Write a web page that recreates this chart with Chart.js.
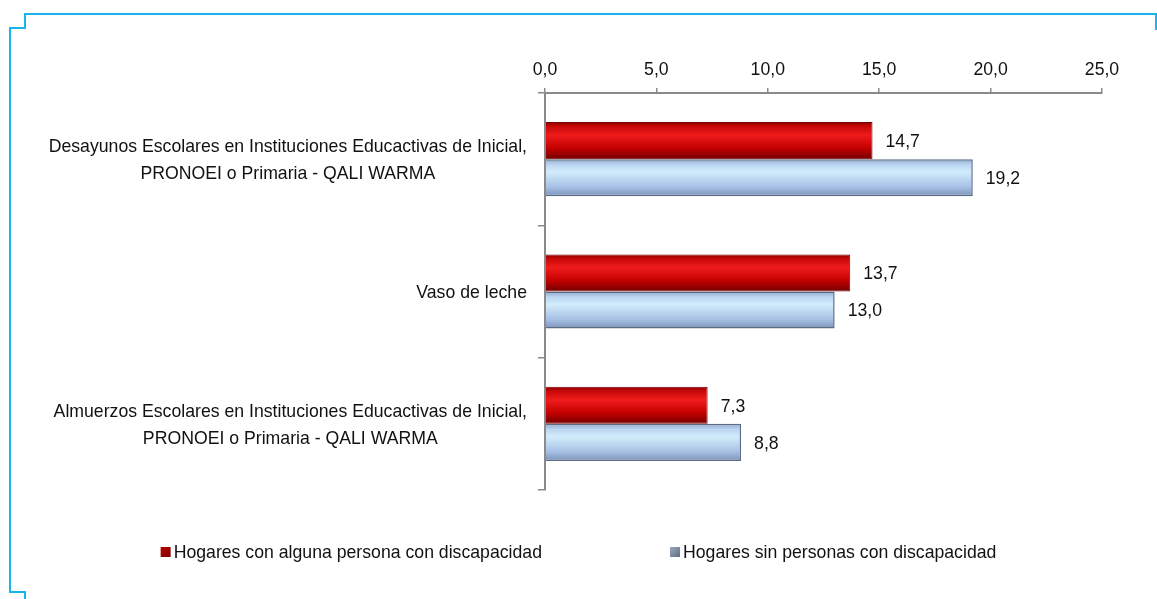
<!DOCTYPE html>
<html>
<head>
<meta charset="utf-8">
<script src="https://cdn.jsdelivr.net/npm/chart.js@4/dist/chart.umd.min.js"></script>
<style>
  html, body { margin: 0; padding: 0; background: #fff; }
  #wrap { width: 1157px; height: 599px; position: relative; }
</style>
</head>
<body>
<div id="wrap"><canvas id="chart"></canvas></div>
<script>
// Data
const categories = [
    ['Desayunos Escolares en Instituciones Educactivas de Inicial,', 'PRONOEI o Primaria - QALI WARMA'],
    ['Vaso de leche'],
    ['Almuerzos Escolares en Instituciones Educactivas de Inicial,', 'PRONOEI o Primaria - QALI WARMA']
];
const seriesNames = ['Hogares con alguna persona con discapacidad', 'Hogares sin personas con discapacidad'];
const withDisability = [14.7, 13.7, 7.3];
const withoutDisability = [19.2, 13.0, 8.8];
const xTicks = [0, 5, 10, 15, 20, 25];

// no narrow font here, so squeeze a normal one sideways
const FAMILY = '"Liberation Sans", Arial, sans-serif';
const FSIZE = 19;
const FONT = FSIZE + 'px ' + FAMILY;
const SX = 0.93;

const CAT_PCT = 0.56;

function fmt(v) {
    return v.toFixed(1).replace('.', ',');
}

function textW(c, s) {
    return c.measureText(s).width * SX;
}

// draw text squeezed horizontally; align is left / center / right
function drawText(c, s, x, y, align) {
    const w = textW(c, s);
    let left = x;
    if (align === 'center') left = x - w / 2;
    if (align === 'right') left = x - w;
    c.save();
    c.translate(left, y);
    c.scale(SX, 1);
    c.textAlign = 'left';
    c.textBaseline = 'middle';
    c.fillText(s, 0, 0);
    c.restore();
}

// vertical gradient for each bar, worked out from the category scale
function barFill(stops, solid) {
    return (ctx) => {
        const chart = ctx.chart;
        const yScale = chart.scales.y;
        if (!chart.chartArea || !yScale) return solid;
        const band = (chart.chartArea.bottom - chart.chartArea.top) / categories.length;
        const thick = band * CAT_PCT / 2;
        const center = yScale.getPixelForValue(ctx.dataIndex);
        const top = center - thick + ctx.datasetIndex * thick;
        const g = chart.ctx.createLinearGradient(0, top, 0, top + thick);
        stops.forEach(s => g.addColorStop(s[0], s[1]));
        return g;
    };
}

const redStops = [[0, '#900000'], [0.12, '#c80808'], [0.35, '#f01c1c'], [0.7, '#c40000'], [1, '#740000']];
const blueStops = [[0, '#8ea8cc'], [0.15, '#bcd6f2'], [0.35, '#d2ecfc'], [0.75, '#a7c0e4'], [1, '#7b93b8']];

// cyan frame around the figure
const framePlugin = {
    id: 'frame',
    beforeDraw(chart) {
        const c = chart.ctx;
        c.save();
        c.strokeStyle = '#19b4ee';
        c.lineWidth = 2;
        c.beginPath();
        c.moveTo(1156, 30);
        c.lineTo(1156, 14);
        c.lineTo(25, 14);
        c.lineTo(25, 28);
        c.lineTo(10, 28);
        c.lineTo(10, 592);
        c.lineTo(25, 592);
        c.lineTo(25, 599);
        c.stroke();
        c.restore();
    }
};

// axis text: x ticks above the axis, category labels right aligned with centred lines
const axisTextPlugin = {
    id: 'axisText',
    afterDraw(chart) {
        const c = chart.ctx;
        const xScale = chart.scales.x;
        const yScale = chart.scales.y;
        c.save();
        c.font = FONT;
        c.fillStyle = '#111';
        xTicks.forEach(v => {
            drawText(c, fmt(v), xScale.getPixelForValue(v), chart.chartArea.top - 23, 'center');
        });
        const right = chart.chartArea.left - 18;
        const lineH = 27;
        categories.forEach((lines, i) => {
            const w = Math.max(...lines.map(l => textW(c, l)));
            const cx = right - w / 2;
            const cy = yScale.getPixelForValue(i) + 1;
            lines.forEach((l, k) => {
                drawText(c, l, cx, cy + (k - (lines.length - 1) / 2) * lineH, 'center');
            });
        });
        c.restore();
    }
};

// value labels to the right of each bar
const valueLabelPlugin = {
    id: 'valueLabels',
    afterDatasetsDraw(chart) {
        const c = chart.ctx;
        c.save();
        c.font = FONT;
        c.fillStyle = '#111';
        chart.data.datasets.forEach((ds, di) => {
            chart.getDatasetMeta(di).data.forEach((bar, i) => {
                drawText(c, fmt(ds.data[i]), bar.x + 13, bar.y + 1, 'left');
            });
        });
        c.restore();
    }
};

// legend drawn by hand so the gap between the items matches
const legendPlugin = {
    id: 'customLegend',
    afterDraw(chart) {
        const c = chart.ctx;
        const boxColors = [['#c00000', '#7a0000'], ['#9aa8bc', '#5f6d84']];
        const y = 552;
        const gap = 128;
        c.save();
        c.font = FONT;
        const widths = seriesNames.map(n => 13 + textW(c, n));
        let x = (chart.width - (widths[0] + gap + widths[1])) / 2;
        seriesNames.forEach((n, i) => {
            const g = c.createLinearGradient(x, y - 5, x + 10, y + 5);
            g.addColorStop(0, boxColors[i][0]);
            g.addColorStop(1, boxColors[i][1]);
            c.fillStyle = g;
            c.fillRect(x, y - 5, 10, 10);
            c.fillStyle = '#111';
            drawText(c, n, x + 13, y + 1, 'left');
            x += widths[i] + gap;
        });
        c.restore();
    }
};

const ctx = document.getElementById('chart').getContext('2d');
new Chart(ctx, {
    type: 'bar',
    data: {
        labels: categories,
        datasets: [{
            label: seriesNames[0],
            data: withDisability,
            backgroundColor: barFill(redStops, '#d00000'),
            borderColor: '#7a0000',
            borderWidth: 1,
            barPercentage: 1,
            categoryPercentage: CAT_PCT
        }, {
            label: seriesNames[1],
            data: withoutDisability,
            backgroundColor: barFill(blueStops, '#b8cfee'),
            borderColor: '#5d6c84',
            borderWidth: 1.5,
            barPercentage: 1,
            categoryPercentage: CAT_PCT
        }]
    },
    options: {
        indexAxis: 'y',
        responsive: true,
        maintainAspectRatio: false,
        animation: false,
        layout: {
            padding: { left: 10, right: 55, top: 20, bottom: 109 }
        },
        plugins: {
            legend: { display: false },
            tooltip: { enabled: false },
            title: { display: false }
        },
        scales: {
            x: {
                position: 'top',
                min: 0,
                max: 25,
                afterBuildTicks: (scale) => {
                    scale.ticks = xTicks.map(v => ({ value: v }));
                },
                afterFit: (scale) => { scale.height = 73; },
                ticks: {
                    color: 'rgba(0,0,0,0)',
                    font: { family: FAMILY, size: FSIZE },
                    padding: 9,
                    maxRotation: 0,
                    callback: (v) => fmt(v)
                },
                grid: {
                    drawOnChartArea: false,
                    drawTicks: true,
                    tickLength: 5,
                    color: '#8a8a8a',
                    lineWidth: 1.5
                },
                border: { display: true, color: '#8a8a8a', width: 2 }
            },
            y: {
                afterFit: (scale) => { scale.width = 535; },
                ticks: {
                    color: 'rgba(0,0,0,0)',
                    font: { family: FAMILY, size: FSIZE }
                },
                grid: {
                    offset: true,
                    drawOnChartArea: false,
                    drawTicks: true,
                    tickLength: 7,
                    color: '#8a8a8a',
                    lineWidth: 1.5
                },
                border: { display: true, color: '#8a8a8a', width: 2 }
            }
        }
    },
    plugins: [framePlugin, axisTextPlugin, valueLabelPlugin, legendPlugin]
});
</script>
</body>
</html>
